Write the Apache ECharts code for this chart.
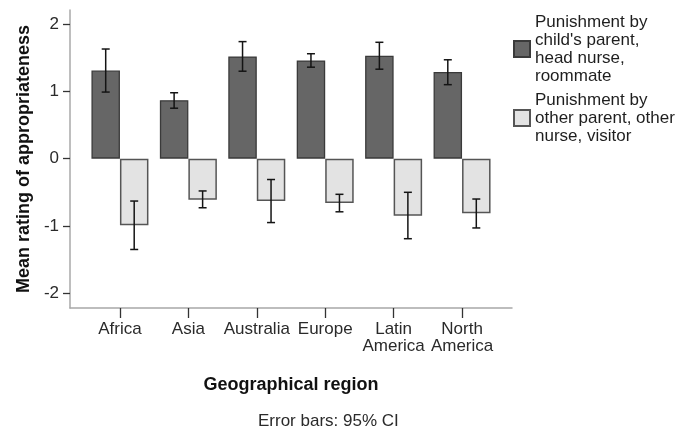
<!DOCTYPE html>
<html>
<head>
<meta charset="utf-8">
<script src="https://cdn.jsdelivr.net/npm/echarts@6/dist/echarts.min.js"></script>
<style>
  html, body { margin: 0; padding: 0; background: #fff; }
  #chart { width: 678px; height: 430px; }
</style>
</head>
<body>
<div id="chart"></div>
<script>
// Regions on the horizontal axis
const regions = ['Africa', 'Asia', 'Australia', 'Europe', 'Latin\nAmerica', 'North\nAmerica'];

// Series names
const nameOwn = 'Punishment by\nchild\'s parent,\nhead nurse,\nroommate';
const nameOther = 'Punishment by\nother parent, other\nnurse, visitor';

// Mean ratings
const meanOwn   = [1.31, 0.87, 1.52, 1.46, 1.53, 1.29];
const meanOther = [-0.99, -0.61, -0.63, -0.66, -0.85, -0.81];

// 95% confidence intervals (lower, upper)
const ciOwnLow    = [0.99, 0.75, 1.30, 1.36, 1.33, 1.10];
const ciOwnHigh   = [1.63, 0.98, 1.74, 1.56, 1.73, 1.47];
const ciOtherLow  = [-1.35, -0.73, -0.95, -0.79, -1.19, -1.03];
const ciOtherHigh = [-0.63, -0.48, -0.31, -0.53, -0.50, -0.60];

// Tick values
const yTicks = [-2, -1, 0, 1, 2];
const xTicks = regions.map((_, i) => i);

const FONT = '"Liberation Sans", Arial, sans-serif';
const BAR_W = 28.5;

const barData = vals => vals.map((v, i) => [i, v]);
const ciData = (lo, hi) => lo.map((l, i) => [i, l, hi[i]]);

// Draws an I-shaped error bar, shifted sideways onto its bar
function errorBar(shift) {
  return function (params, api) {
    const x = api.value(0);
    const lo = api.coord([x, api.value(1)]);
    const hi = api.coord([x, api.value(2)]);
    const cx = lo[0] + shift;
    const cap = 4;
    const style = { stroke: '#141414', lineWidth: 1.5 };
    return {
      type: 'group',
      children: [
        { type: 'line', shape: { x1: cx, y1: hi[1], x2: cx, y2: lo[1] }, style },
        { type: 'line', shape: { x1: cx - cap, y1: hi[1], x2: cx + cap, y2: hi[1] }, style },
        { type: 'line', shape: { x1: cx - cap, y1: lo[1], x2: cx + cap, y2: lo[1] }, style }
      ]
    };
  };
}

const chart = echarts.init(document.getElementById('chart'), null, { renderer: 'canvas' });

chart.setOption({
  animation: false,
  backgroundColor: '#ffffff',
  textStyle: { fontFamily: FONT },
  grid: { left: 70, right: 166, top: 10, bottom: 122, containLabel: false },
  legend: {
    orient: 'vertical',
    left: 513,
    top: 13,
    padding: 0,
    itemGap: 6,
    itemWidth: 16,
    itemHeight: 16,
    icon: 'rect',
    data: [nameOwn, nameOther],
    textStyle: { fontFamily: FONT, fontSize: 17, lineHeight: 18, color: '#1e1e1e' }
  },
  xAxis: {
    type: 'value',
    min: -0.73,
    max: 5.73,
    name: 'Geographical region',
    nameLocation: 'middle',
    nameGap: 68,
    nameTextStyle: { fontFamily: FONT, fontSize: 18, fontWeight: 'bold', color: '#111' },
    axisLine: { show: true, onZero: false, lineStyle: { color: '#a8a8a8', width: 1.5 } },
    axisTick: { show: true, customValues: xTicks, length: 10, lineStyle: { color: '#333', width: 1.3 } },
    axisLabel: {
      customValues: xTicks,
      margin: 13,
      fontFamily: FONT, fontSize: 17, lineHeight: 17, color: '#2a2a2a',
      formatter: v => regions[Math.round(v)]
    },
    splitLine: { show: false }
  },
  yAxis: {
    type: 'value',
    min: -2.22,
    max: 2.21,
    name: 'Mean rating of appropriateness',
    nameLocation: 'middle',
    nameGap: 37,
    nameTextStyle: { fontFamily: FONT, fontSize: 18, fontWeight: 'bold', color: '#111' },
    axisLine: { show: true, onZero: false, lineStyle: { color: '#a8a8a8', width: 1.5 } },
    axisTick: { show: true, customValues: yTicks, length: 7, lineStyle: { color: '#333', width: 1.3 } },
    axisLabel: {
      customValues: yTicks,
      margin: 11,
      fontFamily: FONT, fontSize: 17, color: '#2a2a2a'
    },
    splitLine: { show: false }
  },
  series: [
    {
      name: nameOwn,
      type: 'bar',
      barWidth: BAR_W,
      barGap: '0%',
      data: barData(meanOwn),
      itemStyle: { color: '#666666', borderColor: '#3a3a3a', borderWidth: 1.3 }
    },
    {
      name: nameOther,
      type: 'bar',
      barWidth: BAR_W,
      barGap: '0%',
      data: barData(meanOther),
      itemStyle: { color: '#e3e3e3', borderColor: '#555555', borderWidth: 1.5 }
    },
    {
      type: 'custom',
      renderItem: errorBar(-BAR_W / 2),
      data: ciData(ciOwnLow, ciOwnHigh),
      z: 5
    },
    {
      type: 'custom',
      renderItem: errorBar(BAR_W / 2),
      data: ciData(ciOtherLow, ciOtherHigh),
      z: 5
    }
  ],
  graphic: [
    {
      type: 'text',
      left: 258,
      top: 413,
      style: { text: 'Error bars: 95% CI', font: '17px ' + FONT, fill: '#2a2a2a' }
    }
  ]
});
</script>
</body>
</html>
